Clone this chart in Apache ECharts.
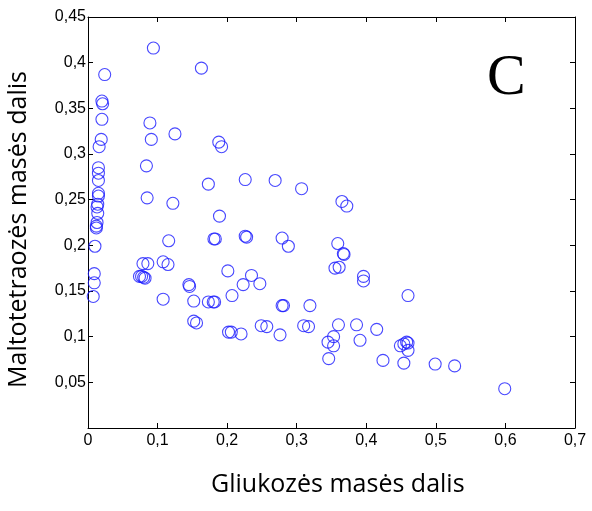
<!DOCTYPE html>
<html>
<head>
<meta charset="utf-8">
<script src="https://cdn.jsdelivr.net/npm/echarts@6/dist/echarts.min.js"></script>
<style>
html,body{margin:0;padding:0;background:#fff;}
#c{width:592px;height:511px;}
</style>
</head>
<body>
<div id="c"></div>
<script>
// Glucose mass fraction (x) and maltotetraose mass fraction (y)
const glucose = [
  0.024,0.020,0.021,0.020,0.019,0.016,0.015,0.015,0.015,0.015,0.015,0.014,0.013,0.014,0.013,0.012,0.012,0.010,0.009,0.009,0.0075,
  0.094,0.163,0.089,0.091,0.125,0.188,0.192,0.084,0.173,0.226,0.085,0.122,0.189,0.116,0.181,0.183,0.226,0.228,0.079,0.086,0.108,0.115,
  0.074,0.077,0.080,0.082,
  0.201,0.145,0.146,0.108,0.152,0.173,0.180,0.182,0.207,0.223,0.235,0.247,0.152,0.156,0.202,0.206,0.220,0.249,0.257,0.276,
  0.269,0.307,0.365,0.372,0.279,0.288,0.359,0.367,0.368,0.355,0.361,0.396,0.396,0.279,0.281,0.319,0.310,0.317,0.360,0.386,0.415,
  0.353,0.345,0.353,0.391,0.346,0.424,0.449,0.454,0.458,0.460,0.460,0.460,0.454,0.499,0.527,0.599
];
const maltotetraose = [
  0.387,0.358,0.355,0.338,0.316,0.308,0.285,0.279,0.271,0.257,0.254,0.245,0.242,0.235,0.225,0.221,0.219,0.199,0.169,0.159,0.144,
  0.416,0.394,0.334,0.316,0.322,0.313,0.308,0.287,0.267,0.272,0.252,0.246,0.232,0.205,0.207,0.207,0.210,0.209,0.180,0.180,0.182,0.179,
  0.166,0.166,0.165,0.164,
  0.172,0.157,0.155,0.141,0.139,0.138,0.138,0.138,0.145,0.157,0.167,0.158,0.117,0.115,0.105,0.105,0.103,0.112,0.111,0.102,
  0.271,0.262,0.248,0.243,0.208,0.199,0.202,0.191,0.190,0.175,0.176,0.166,0.161,0.134,0.134,0.134,0.112,0.111,0.113,0.113,0.108,
  0.100,0.094,0.090,0.096,0.076,0.074,0.090,0.092,0.094,0.093,0.085,0.145,0.071,0.070,0.068,0.043
];
const xTickLabels = ['0','0,1','0,2','0,3','0,4','0,5','0,6','0,7'];
const yTickLabels = ['','0,05','0,1','0,15','0,2','0,25','0,3','0,35','0,4','0,45'];
const xTitle = 'Gliukozės masės dalis';
const yTitle = 'Maltotetraozės masės dalis';
const panelLabel = 'C';

const points = glucose.map((g, i) => [g, maltotetraose[i]]);

const chart = echarts.init(document.getElementById('c'), null, {renderer: 'canvas'});
const axisCommon = {
  axisLine: {show: true, onZero: false, lineStyle: {color: '#000', width: 1}},
  axisTick: {show: true, inside: true, length: 5, lineStyle: {color: '#000', width: 1}},
  splitLine: {show: false}
};
chart.setOption({
  animation: false,
  backgroundColor: '#fff',
  grid: {left: 88, top: 17, width: 487, height: 411, containLabel: false},
  xAxis: [
    Object.assign({}, axisCommon, {
      type: 'value', min: 0, max: 0.7, interval: 0.1, position: 'bottom',
      axisLabel: {
        show: true, margin: 5, color: '#000', fontFamily: 'Liberation Sans, Arial', fontSize: 16,
        formatter: v => xTickLabels[Math.round(v / 0.1)]
      }
    }),
    Object.assign({}, axisCommon, {
      type: 'value', min: 0, max: 0.7, interval: 0.1, position: 'top',
      axisLabel: {show: false}
    })
  ],
  yAxis: [
    Object.assign({}, axisCommon, {
      type: 'value', min: 0, max: 0.45, interval: 0.05, position: 'left',
      axisLabel: {
        show: true, margin: 2, color: '#000', fontFamily: 'Liberation Sans, Arial', fontSize: 16,
        formatter: v => yTickLabels[Math.round(v / 0.05)]
      }
    }),
    Object.assign({}, axisCommon, {
      type: 'value', min: 0, max: 0.45, interval: 0.05, position: 'right',
      axisLabel: {show: false}
    })
  ],
  graphic: [
    {type: 'text', left: 211, top: 472,
      style: {text: xTitle, fill: '#000', font: '25px "Open Sans", sans-serif'}},
    {type: 'text', x: 6, y: 388, rotation: Math.PI / 2,
      style: {text: yTitle, fill: '#000', font: '25px "Open Sans", sans-serif', textVerticalAlign: 'top'}},
    {type: 'text', left: 487, top: 50,
      style: {text: panelLabel, fill: '#000', font: '58px "Liberation Serif", "Times New Roman", serif'}}
  ],
  series: [{
    type: 'scatter',
    xAxisIndex: 0, yAxisIndex: 0,
    data: points,
    symbol: 'circle',
    symbolSize: 12,
    itemStyle: {color: 'rgba(0,0,0,0)', borderColor: '#1a1aff', borderWidth: 1.1},
    emphasis: {disabled: true}
  }]
});
</script>
</body>
</html>
